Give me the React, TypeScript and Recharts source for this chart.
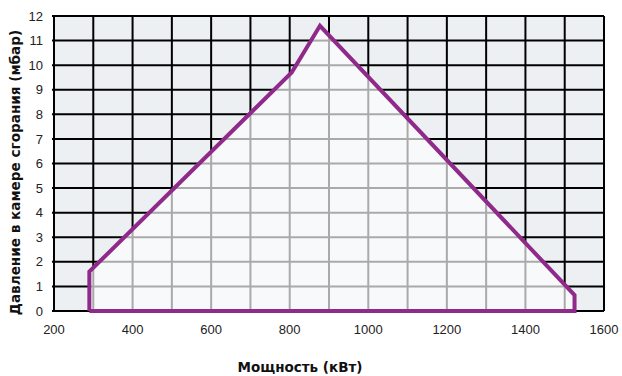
import { ComposedChart, Area, Line, XAxis, YAxis, CartesianGrid, ReferenceLine } from 'recharts';

document.body.style.margin = '0';

// operating field outline (кВт, мбар), closed
const POWER_KW = [290, 290, 805, 877, 1525, 1525, 290];
const PRESSURE_MBAR = [0, 1.6, 9.7, 11.6, 0.65, 0, 0];

const X_TICKS = [200, 400, 600, 800, 1000, 1200, 1400, 1600];
const X_GRID = [200, 300, 400, 500, 600, 700, 800, 900, 1000, 1100, 1200, 1300, 1400, 1500, 1600];
const Y_TICKS = [0, 1, 2, 3, 4, 5, 6, 7, 8, 9, 10, 11, 12];

const PURPLE = '#8f2a8a';

const outline = POWER_KW.map((kw, i) => ({ kw, p: PRESSURE_MBAR[i] }));
// top edge only (area fills down to 0)
const topEdge = outline.slice(1, 5);

// linear lookup along a chain of points
function lerp(chain: { kw: number; p: number }[], key: 'kw' | 'p', v: number, other: 'kw' | 'p') {
  for (let i = 0; i < chain.length - 1; i++) {
    const a = chain[i];
    const b = chain[i + 1];
    const lo = Math.min(a[key], b[key]);
    const hi = Math.max(a[key], b[key]);
    if (v >= lo && v <= hi && hi > lo) {
      return a[other] + ((v - a[key]) * (b[other] - a[other])) / (b[key] - a[key]);
    }
  }
  return null;
}

const leftChain = outline.slice(1, 4); // rising edge
const rightChain = outline.slice(3, 5); // falling edge

const innerVertical = X_GRID.filter((x) => x > 290 && x < 1525).map((x) => {
  const top = lerp(topEdge, 'kw', x, 'p') ?? 0;
  return [{ x, y: 0 }, { x, y: top }];
});

const innerHorizontal = Y_TICKS.filter((y) => y > 0 && y < 11.6).map((y) => {
  const left = y <= 1.6 ? 290 : lerp(leftChain, 'p', y, 'kw') ?? 290;
  const right = y <= 0.65 ? 1525 : lerp(rightChain, 'p', y, 'kw') ?? 1525;
  return [{ x: left, y }, { x: right, y }];
});

const YTitle = ({ viewBox }: any) => {
  const cx = 15;
  const cy = viewBox.y + viewBox.height / 2 + 9;
  return (
    <text
      x={cx}
      y={cy}
      transform={`rotate(-90, ${cx}, ${cy})`}
      textAnchor="middle"
      dominantBaseline="central"
      fontFamily="DejaVu Sans"
      fontWeight="bold"
      fontSize={13.6}
      fill="#111"
    >
      Давление в камере сгорания (мбар)
    </text>
  );
};

const XTitle = ({ viewBox }: any) => (
  <text
    x={viewBox.x + viewBox.width / 2 - 29}
    y={372}
    textAnchor="middle"
    fontFamily="DejaVu Sans"
    fontWeight="bold"
    fontSize={13.5}
    fill="#111"
  >
    Мощность (кВт)
  </text>
);

export default function App() {
  return (
    <div style={{ width: 622, height: 376, background: '#fff' }}>
      <ComposedChart width={622} height={376} margin={{ top: 16, right: 18, left: 0, bottom: 0 }}>
        <CartesianGrid
          stroke="#000"
          strokeWidth={2}
          fill="#edf0f3"
          verticalValues={X_GRID}
          horizontalValues={Y_TICKS}
        />
        <XAxis
          dataKey="kw"
          type="number"
          domain={[200, 1600]}
          ticks={X_TICKS}
          height={65}
          axisLine={false}
          tickLine={false}
          tickSize={0}
          tickMargin={14}
          tick={{ fontSize: 13, fill: '#222', fontFamily: 'Liberation Sans' }}
          label={<XTitle />}
        />
        <YAxis
          type="number"
          domain={[0, 12]}
          ticks={Y_TICKS}
          width={54}
          axisLine={false}
          tickLine={{ stroke: '#000', strokeWidth: 2 }}
          tickSize={2}
          tickMargin={9}
          interval={0}
          tick={{ fontSize: 13, fill: '#222', fontFamily: 'Liberation Sans' }}
          label={<YTitle />}
        />
        <Area
          data={topEdge}
          dataKey="p"
          type="linear"
          fill="#f8f9fb"
          fillOpacity={1}
          stroke="none"
          isAnimationActive={false}
        />
        {innerVertical.map((seg) => (
          <ReferenceLine key={`v${seg[0].x}`} segment={seg} stroke="#aaaaaa" strokeWidth={2} />
        ))}
        {innerHorizontal.map((seg) => (
          <ReferenceLine key={`h${seg[0].y}`} segment={seg} stroke="#aaaaaa" strokeWidth={2} />
        ))}
        <Line
          data={outline}
          dataKey="p"
          type="linear"
          stroke={PURPLE}
          strokeWidth={4}
          strokeLinejoin="miter"
          dot={false}
          activeDot={false}
          isAnimationActive={false}
        />
      </ComposedChart>
    </div>
  );
}
